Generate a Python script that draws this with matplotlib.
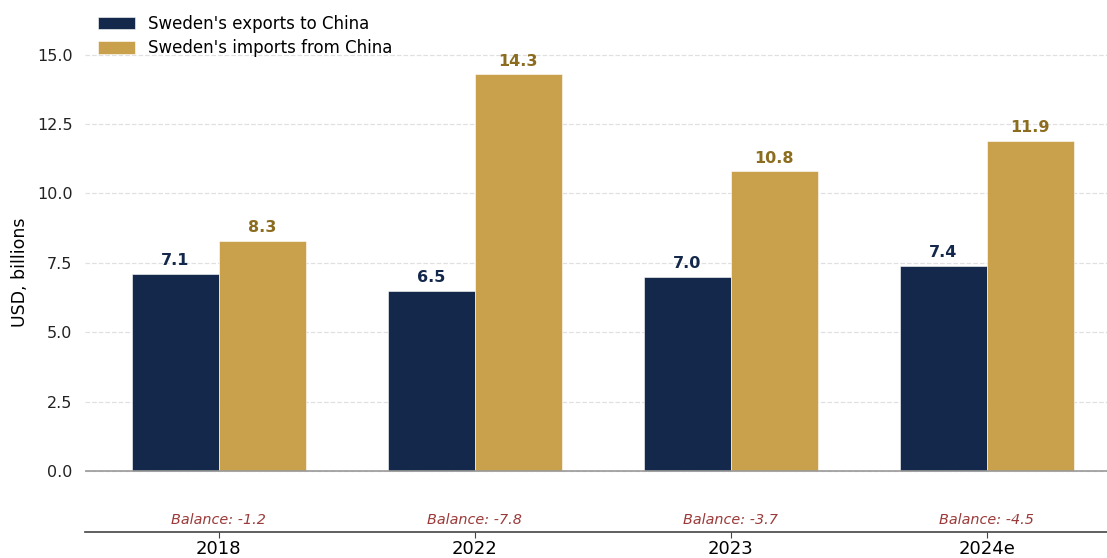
import matplotlib
matplotlib.use('Agg')
import matplotlib.pyplot as plt
import numpy as np

# data
years = ['2018', '2022', '2023', '2024e']
exports = [7.1, 6.5, 7.0, 7.4]
imports = [8.3, 14.3, 10.8, 11.9]
balance = [-1.2, -7.8, -3.7, -4.5]

navy = '#14284b'
gold = '#c9a04b'

fig = plt.figure(figsize=(11.07, 5.58), dpi=100)
ax = fig.add_axes([85 / 1107, 26 / 558, 1 - 85 / 1107, 1 - 26 / 558 - 13 / 558])

x = np.arange(len(years))
w = 0.34
b1 = ax.bar(x - w / 2, exports, w, color=navy, edgecolor='white', linewidth=0.4,
            label="Sweden's exports to China", zorder=3)
b2 = ax.bar(x + w / 2, imports, w, color=gold, edgecolor='white', linewidth=0.4,
            label="Sweden's imports from China", zorder=3)

for rect, v in zip(b1, exports):
    ax.annotate(f'{v:.1f}', (rect.get_x() + rect.get_width() / 2, v), xytext=(0, 4),
                textcoords='offset points', ha='center', va='bottom',
                fontsize=11.5, fontweight='bold', color=navy)
for rect, v in zip(b2, imports):
    ax.annotate(f'{v:.1f}', (rect.get_x() + rect.get_width() / 2, v), xytext=(0, 4),
                textcoords='offset points', ha='center', va='bottom',
                fontsize=11.5, fontweight='bold', color='#8c6d1f')

for xi, bal in zip(x, balance):
    ax.text(xi, -1.77, f'Balance: {bal:.1f}', ha='center', va='center',
            fontsize=10.4, style='italic', color='#9b3a3a')

ax.axhline(0, color='#999999', linewidth=1.2, zorder=4)

ax.set_xlim(-0.523, 3.47)
ax.set_ylim(-2.2, 16.5)
ax.set_yticks(np.arange(0, 15.1, 2.5))
ax.set_yticklabels([f'{t:.1f}' for t in np.arange(0, 15.1, 2.5)], fontsize=11.5)
ax.set_xticks(x)
ax.set_xticklabels(years, fontsize=13)
ax.set_ylabel('USD, billions', fontsize=12.5, labelpad=6)

ax.grid(axis='y', linestyle='--', color='#e0e0e0', linewidth=0.9, zorder=0)
ax.set_axisbelow(True)
ax.tick_params(axis='y', length=0, pad=9, colors='#222222')
ax.tick_params(axis='x', length=4, color='#444444', pad=2)
for s in ['top', 'right', 'left']:
    ax.spines[s].set_visible(False)
ax.spines['bottom'].set_color('#444444')
ax.spines['bottom'].set_linewidth(1.2)

ax.legend(loc='upper left', bbox_to_anchor=(0.003, 1.016), frameon=False, fontsize=12,
          handlelength=2.2, handleheight=0.8, labelspacing=0.4, borderaxespad=0.2)

fig.savefig('out.png', dpi=100)
